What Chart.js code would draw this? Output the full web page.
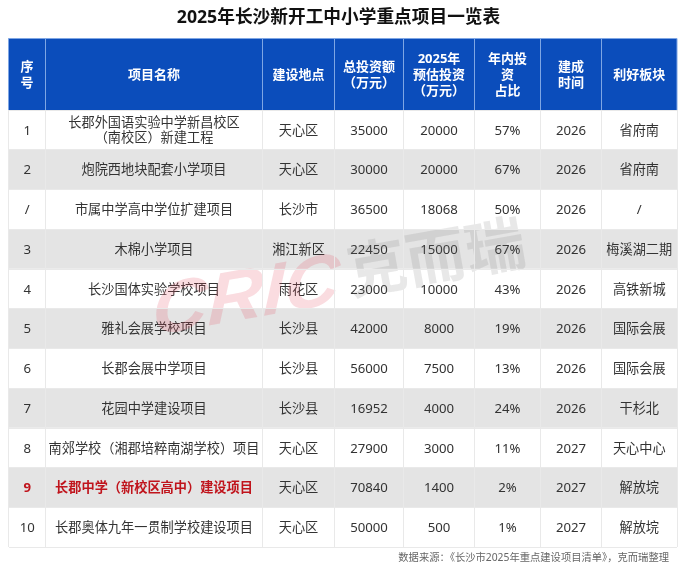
<!DOCTYPE html>
<html>
<head>
<meta charset="utf-8">
<style>
  html, body { margin: 0; padding: 0; background: #fff; }
  canvas { display: block; }
</style>
<script src="https://cdn.jsdelivr.net/npm/chart.js@4/dist/chart.umd.min.js"></script>
</head>
<body>
<canvas id="project-table" width="689" height="571"></canvas>
<script>
const titleText = "2025年长沙新开工中小学重点项目一览表";
const sourceText = "数据来源：《长沙市2025年重点建设项目清单》，克而瑞整理";

const headers = [
  ["序", "号"],
  ["项目名称"],
  ["建设地点"],
  ["总投资额", "（万元）"],
  ["2025年", "预估投资", "（万元）"],
  ["年内投", "资", "占比"],
  ["建成", "时间"],
  ["利好板块"]
];

const seqNo = ["1", "2", "/", "3", "4", "5", "6", "7", "8", "9", "10"];
const projects = [
  ["长郡外国语实验中学新昌校区", "（南校区）新建工程"],
  "炮院西地块配套小学项目",
  "市属中学高中学位扩建项目",
  "木棉小学项目",
  "长沙国体实验学校项目",
  "雅礼会展学校项目",
  "长郡会展中学项目",
  "花园中学建设项目",
  "南郊学校（湘郡培粹南湖学校）项目",
  "长郡中学（新校区高中）建设项目",
  "长郡奥体九年一贯制学校建设项目"
];
const locations = ["天心区", "天心区", "长沙市", "湘江新区", "雨花区", "长沙县", "长沙县", "长沙县", "天心区", "天心区", "天心区"];
const totalInvest = [35000, 30000, 36500, 22450, 23000, 42000, 56000, 16952, 27900, 70840, 50000];
const invest2025 = [20000, 20000, 18068, 15000, 10000, 8000, 7500, 4000, 3000, 1400, 500];
const yearShare = ["57%", "67%", "50%", "67%", "43%", "19%", "13%", "24%", "11%", "2%", "1%"];
const buildYear = [2026, 2026, 2026, 2026, 2026, 2026, 2026, 2026, 2027, 2027, 2027];
const sectors = ["省府南", "省府南", "/", "梅溪湖二期", "高铁新城", "国际会展", "国际会展", "干杉北", "天心中心", "解放垸", "解放垸"];

const columns = [seqNo, projects, locations, totalInvest, invest2025, yearShare, buildYear, sectors];
const highlightRow = 9;

// table layout, kept apart from the data
const colWidths = [37, 217, 72, 69, 71, 66, 61, 75.5];
const headerHeight = 71.5;
const fontStack = '"Noto Sans", "Noto Sans CJK SC", sans-serif';
const headerBlue = "#0b4dbb";
const stripeGray = "#e4e4e4";
const lineGray = "#e9e9e9";

// column edges for the vertical grid lines
let colEdges = [0];
colWidths.forEach(function(w) {
  colEdges.push(colEdges[colEdges.length - 1] + w);
});
const tableWidth = colEdges[colEdges.length - 1];

function drawLines(ctx, lines, x, y, lineHeight) {
  const top = y - (lines.length - 1) * lineHeight / 2;
  lines.forEach(function(line, i) {
    ctx.fillText(line, x, top + i * lineHeight);
  });
}

const tablePlugin = {
  id: "tableText",
  afterDatasetsDraw(chart) {
    const ctx = chart.ctx;
    const area = chart.chartArea;
    const xScale = chart.scales.x;
    ctx.save();
    ctx.textAlign = "center";
    ctx.textBaseline = "middle";

    // header band
    const headTop = area.top - headerHeight;
    ctx.fillStyle = headerBlue;
    ctx.fillRect(area.left, headTop, area.right - area.left, headerHeight);
    ctx.strokeStyle = "#7ea6e4";
    ctx.lineWidth = 1;
    ctx.beginPath();
    ctx.moveTo(area.left, headTop);
    ctx.lineTo(area.right, headTop);
    colEdges.forEach(function(edge) {
      const px = xScale.getPixelForValue(edge);
      ctx.moveTo(px, headTop);
      ctx.lineTo(px, area.top);
    });
    ctx.stroke();

    ctx.fillStyle = "#ffffff";
    ctx.font = "bold 13px " + fontStack;
    headers.forEach(function(lines, c) {
      const mid = xScale.getPixelForValue(colEdges[c] + colWidths[c] / 2);
      drawLines(ctx, lines, mid, headTop + headerHeight / 2 + 0.8, 16);
    });

    // body cells sit on the bars of each column dataset
    chart.data.datasets.forEach(function(ds, c) {
      chart.getDatasetMeta(c).data.forEach(function(bar, r) {
        const red = r === highlightRow && c < 2;
        ctx.fillStyle = red ? "#c0141c" : "#333333";
        ctx.font = (red ? "bold " : "") + "13.2px " + fontStack;
        const cell = columns[c][r];
        const lines = Array.isArray(cell) ? cell : [String(cell)];
        drawLines(ctx, lines, (bar.x + bar.base) / 2, bar.y + 1, 15.7);
      });
    });

    // source note
    ctx.fillStyle = "#666666";
    ctx.font = "10.3px " + fontStack;
    ctx.textAlign = "right";
    ctx.fillText(sourceText, 669, area.bottom + 11);

    // watermark
    ctx.save();
    ctx.translate(340, 272);
    ctx.rotate(-10 * Math.PI / 180);
    ctx.transform(1.08, 0, -0.2, 1, 0, 0);
    ctx.textAlign = "right";
    ctx.font = 'italic bold 72px "Liberation Sans", sans-serif';
    ctx.fillStyle = "rgba(232, 80, 100, 0.2)";
    ctx.fillText("CRIC", 0, 10);
    ctx.restore();
    ctx.translate(347, 272);
    ctx.rotate(-10 * Math.PI / 180);
    ctx.textAlign = "left";
    ctx.font = 'bold 60px "Noto Sans CJK SC", sans-serif';
    ctx.fillStyle = "rgba(120, 120, 120, 0.17)";
    ctx.fillText("克而瑞", 0, 0);
    ctx.restore();
  }
};

new Chart(document.getElementById("project-table"), {
  type: "bar",
  plugins: [tablePlugin],
  data: {
    labels: seqNo,
    datasets: columns.map(function(col, c) {
      return {
        label: headers[c].join(""),
        data: seqNo.map(function() { return colWidths[c]; }),
        backgroundColor: seqNo.map(function(s, r) { return r % 2 === 1 ? stripeGray : "#ffffff"; }),
        barPercentage: 1,
        categoryPercentage: 1,
        borderWidth: 0
      };
    })
  },
  options: {
    indexAxis: "y",
    responsive: false,
    animation: false,
    layout: { padding: { top: 0, left: 0, right: 12, bottom: 23.7 } },
    plugins: {
      legend: { display: false },
      tooltip: { enabled: false },
      title: {
        display: true,
        text: titleText,
        color: "#111111",
        font: { family: fontStack, size: 17.7, weight: "bold" },
        padding: { top: 7.4, bottom: 81.36 }
      }
    },
    scales: {
      x: {
        stacked: true,
        min: 0,
        max: tableWidth,
        border: { display: false },
        ticks: { display: false },
        grid: { color: lineGray, z: 1, drawTicks: false },
        afterBuildTicks(axis) {
          axis.ticks = colEdges.map(function(edge) { return { value: edge }; });
        }
      },
      y: {
        stacked: true,
        border: { display: false },
        ticks: { display: false },
        grid: { color: lineGray, z: 1, drawTicks: false },
        afterFit(axis) { axis.width = 8.5; }
      }
    }
  }
});
</script>
</body>
</html>
